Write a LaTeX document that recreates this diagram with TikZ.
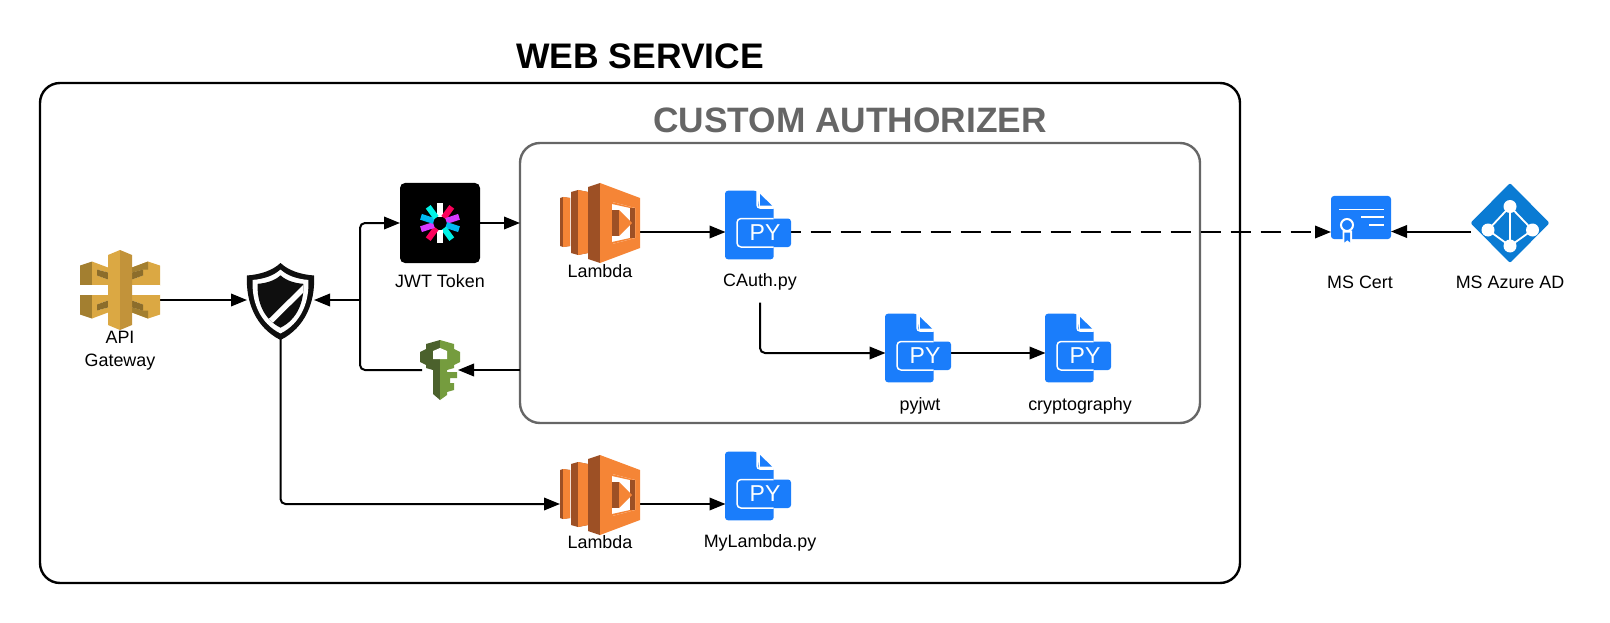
\documentclass[tikz,border=0pt]{standalone}
\usepackage{fontspec}
\setmainfont{Liberation Sans}
\usetikzlibrary{arrows.meta,positioning,calc}

\definecolor{gwlight}{HTML}{DBA843}
\definecolor{gwmid}{HTML}{C2933A}
\definecolor{gwdark}{HTML}{A37F30}
\definecolor{gwshade}{HTML}{8C6D2B}
\definecolor{lamlight}{HTML}{F58536}
\definecolor{lamdark}{HTML}{9D5025}
\definecolor{keylight}{HTML}{759C3E}
\definecolor{keydark}{HTML}{4B612C}
\definecolor{pyblue}{HTML}{1A7DFB}
\definecolor{azureblue}{HTML}{0A7BD3}
\definecolor{jwtred}{HTML}{FB015B}
\definecolor{jwtpurple}{HTML}{D63AFF}
\definecolor{jwtcyan}{HTML}{00B9F1}
\definecolor{jwtteal}{HTML}{00F2E6}

\tikzset{
	pics/gateway/.style={code={
		% side blocks, lower pair is the upper pair mirrored
		\foreach \s in {1,-1}{
			\begin{scope}[yscale=\s, shift={(0,-15.5)}]
				\fill[gwdark]  (-40,-9) -- (-28,-13) -- (-28,11) -- (-40,11) -- cycle;
				\fill[gwlight] (-28,-13) -- (-12,-7) -- (-12,-2) -- (-23,-5) -- (-23,1) -- (-12,5) -- (-12,11) -- (-28,11) -- cycle;
				\fill[gwlight] (40,-9) -- (40,11) -- (12,11) -- (12,5) -- (23,1) -- (23,-5) -- (12,-2) -- (12,-7) -- (28,-13) -- cycle;
				\fill[gwdark]  (12,-7) -- (28,-13) -- (28,-5) -- (23,-5) -- (12,-2) -- cycle;
				\fill[gwshade] (-23,-5) -- (-12,-2) -- (-12,5) -- (-23,1) -- cycle;
				\fill[gwshade] (23,-5) -- (12,-2) -- (12,5) -- (23,1) -- cycle;
			\end{scope}
		}
		\fill[white] (-40,-5) rectangle (40,5);
		\fill[gwlight] (-12,-35) -- (0,-40) -- (0,40) -- (-12,35) -- cycle;
		\fill[gwmid]   (12,-35) -- (0,-40) -- (0,40) -- (12,35) -- cycle;
	}},
	pics/lambda/.style={code={
		\fill[lamdark]  (-40,-25) -- (-37,-26) -- (-30,-25) -- (-30,23) -- (-37,24) -- (-40,23) -- cycle;
		\fill[lamlight] (-37,-26) -- (-30,-25) -- (-30,23) -- (-37,24) -- cycle;
		\fill[lamdark]  (-29,-31) -- (-22,-33) -- (-12,-31) -- (-12,30) -- (-22,32) -- (-29,30) -- cycle;
		\fill[lamlight] (-22,-33) -- (-12,-31) -- (-12,30) -- (-22,32) -- cycle;
		\fill[lamdark]  (-12,-36) -- (0,-40) -- (0,40) -- (-12,36) -- cycle;
		\fill[lamlight] (0,-40) -- (40,-25) -- (40,25) -- (0,40) -- cycle;
		\fill[white]    (12,-21) -- (35,-15) -- (35,15) -- (12,21) -- cycle;
		\fill[lamlight] (12,-21) -- (35,-15) -- (30,-15) -- (12,-19) -- cycle;
		\fill[lamdark]  (30,-15) -- (35,-15) -- (35,15) -- (30,15) -- cycle;
		\fill[lamdark]  (12,-13) -- (19,-13) -- (19,13) -- (12,13) -- cycle;
		\fill[lamlight] (19,-13) -- (32,0) -- (19,13) -- cycle;
		\fill[lamlight] (12,19) -- (30,15) -- (35,15) -- (12,21) -- cycle;
	}},
	pics/pyfile/.style={code={
		\fill[pyblue, rounded corners=3] (-33,-34.3) -- (-1,-34.3) -- (15.7,-18) -- (15.7,34.3) -- (-33,34.3) -- cycle;
		\draw[white, line width=1.5, rounded corners=3] (-1,-34.3) -- (-1,-17) -- (15.7,-17);
		\fill[white] (-1,-34.3) -- (1,-34.3) -- (15.7,-19) -- (15.7,-17) -- (1,-17) -- cycle;
		\fill[pyblue] (2,-31) -- (14,-19.5) -- (2,-19.5) -- cycle;
		\fill[pyblue, rounded corners=3] (-20,-6.5) rectangle (33,22);
		\draw[white, line width=1.5, rounded corners=4] (15.7,-6.5) -- (-21,-6.5) -- (-21,22) -- (15.7,22);
		\node[text=white, font=\fontsize{23}{26}\selectfont, inner sep=0pt] (-py) at (7,7.5) {PY};
	}},
	pics/jwtstar/.style={code={
		\foreach \a/\c in {-90/white,-54/jwtred,-18/jwtpurple,18/jwtcyan,54/jwtteal,90/white,126/jwtred,162/jwtpurple,198/jwtcyan,234/jwtteal}
			\draw[\c, line width=6] (\a:6.5) -- (\a:20);
	}},
	pics/shieldmark/.style={code={
		\def\shieldpath{(0,-38.5) .. controls (8,-31) and (20,-27) .. (33.5,-26) .. controls (35,0) and (25,26) .. (0,38.5) .. controls (-25,26) and (-35,0) .. (-33.5,-26) .. controls (-20,-27) and (-8,-31) .. (0,-38.5) -- cycle}
		\fill[black!94] \shieldpath;
		\fill[white, scale=0.83] \shieldpath;
		\begin{scope}[scale=0.68]
			\fill[black!94] \shieldpath;
			\clip \shieldpath;
			\draw[white, line width=5.5] (-26,40) -- (50,-35);
		\end{scope}
	}},
	pics/keymark/.style={code={
		\fill[keydark]  (0,-30) -- (-14,-26) -- (-14,-21) -- (-20,-18) -- (-20,-8) -- (-14,-5) -- (-14,-2) -- (-7,0) -- (-7,24) -- (0,30) -- cycle;
		\fill[keylight] (0,-30) -- (14,-26) -- (14,-21) -- (20,-18) -- (20,-8) -- (14,-5) -- (14,-2) -- (7,0) -- (7,2) -- (17,2) -- (17,8) -- (10,8) -- (10,13) -- (14,13) -- (14,20) -- (7,22) -- (7,25) -- (0,30) -- cycle;
		\fill[white]    (0,-22) -- (7,-19) -- (7,-11) -- (-7,-11) -- (-7,-19) -- cycle;
	}},
	pics/certmark/.style={code={
		\fill[pyblue] (-30,-21.5) [rounded corners=3] rectangle (30,21.5);
		\draw[white, line width=1.7] (-22,-8) -- (22.7,-8) (0.3,-0.5) -- (22.7,-0.5) (8.3,7.5) -- (22.7,7.5);
		\fill[white] (-18.5,13) -- (-18.5,28.5) -- (-13.7,25) -- (-9,28.5) -- (-9,13) -- cycle;
		\fill[pyblue] (-16.7,15) -- (-16.7,25) -- (-13.7,22.7) -- (-10.8,25) -- (-10.8,15) -- cycle;
		\draw[white, fill=pyblue, line width=2] (-14,7.5) circle (6);
	}},
	pics/azuremark/.style={code={
		\fill[azureblue, rounded corners=2] (0,-40) -- (39.5,0) -- (0,40) -- (-39.5,0) -- cycle;
		\draw[white, line width=1.8] (0,-16.5) -- (22.5,7) -- (0,23) -- (-22,7) -- cycle (0,-16.5) -- (0,23);
		\foreach \p in {(0,-16.5),(22.5,7),(0,23),(-22,7)}
			\fill[white] \p circle (6.5);
	}}
}

\begin{document}
\begin{tikzpicture}[
		x=1pt, y=-1pt,
		icon/.style={minimum width=#1, minimum height=#1, inner sep=0pt, outer sep=0pt},
		lbl/.style={inner sep=0pt, align=center, font=\fontsize{17.9}{23}\selectfont},
		frame/.style={draw, rounded corners=20pt, line width=2.4pt, minimum width=#1, inner sep=0pt, outer sep=0pt},
		arr/.style={-{Triangle[length=16pt,width=12.5pt]}, line width=2pt, rounded corners=5pt},
		wire/.style={line width=2pt, rounded corners=5pt}
		]
		\useasboundingbox (0,0) rectangle (1610,623);
		
		% Frames and titles
		\node[frame=1200pt, minimum height=500pt] (service) at (640,333) {};
		\node[frame=680pt, minimum height=280pt, draw=black!60] (custom) at (860,283) {};
		\node[font=\fontsize{35.5}{40}\selectfont\bfseries, inner sep=0pt] (servicetitle) at (640,56) {WEB SERVICE};
		\node[font=\fontsize{35.3}{40}\selectfont\bfseries, inner sep=0pt, text=black!60] (customtitle) at (850,120) {CUSTOM AUTHORIZER};
		
		% Icon places
		\node[icon=80pt] (gw)     at (120,290) {};
		\node[icon=67pt] (shield) at (280.5,300) {};
		\node[icon=80pt] (jwt)    at (440,223) {};
		\node[icon=36pt] (key)    at (440,370) {};
		\node[icon=80pt] (lam)    at (600,223) {};
		\node[icon=65pt] (cauth)  at (758,225) {};
		\node[icon=65pt] (pyjwt)  at (918,348) {};
		\node[icon=65pt] (crypto) at (1078,348) {};
		\node[icon=80pt] (lamb)   at (600,495) {};
		\node[icon=65pt] (mylam)  at (758,486) {};
		\node[icon=60pt] (cert)   at (1361,217.5) {};
		\node[icon=78pt] (azure)  at (1510,223) {};
		\coordinate (hub) at (360,300);
		
		% Labels
		\node[lbl] (gwlbl)     at (120,350.5) {API\\Gateway};
		\node[lbl] (jwtlbl)    at (440,281) {JWT Token};
		\node[lbl] (lamlbl)    at (600,271) {Lambda};
		\node[lbl] (cauthlbl)  at (760,282) {CAuth.py};
		\node[lbl] (pyjwtlbl)  at (920,406) {pyjwt};
		\node[lbl] (cryptolbl) at (1080,406) {cryptography};
		\node[lbl] (lamblbl)   at (600,542.5) {Lambda};
		\node[lbl] (mylamlbl)  at (760,543) {MyLambda.py};
		\node[lbl] (certlbl)   at (1360,282) {MS Cert};
		\node[lbl] (azurelbl)  at (1510,282) {MS Azure AD};
		
		% Arrows
		\draw[arr] ([yshift=-10pt]gw.east) -- (shield.west);
		\draw[arr] (hub) -- (shield.east);
		\draw[arr] (hub) |- (jwt.west);
		\draw[wire] (key.west) -| (hub);
		\draw[arr] (custom.west |- key.east) -- (key.east);
		\draw[arr] (jwt.east) -- (jwt.east -| custom.west);
		\draw[arr] (shield.south) |- ([yshift=-9pt]lamb.west);
		\draw[arr] ([yshift=-9pt]lam.east) -- ([yshift=-7pt]cauth.west);
		\draw[arr, dash pattern=on 20pt off 10pt, dash phase=10pt] ([yshift=-7pt]cauth.east) -- ([yshift=-14.5pt]cert.west);
		\draw[arr] ([yshift=-14pt]cert.east -| azure.west) -- ([yshift=-14pt]cert.east);
		\draw[arr] ([yshift=-12pt]cauthlbl.south) |- ([yshift=-5pt]pyjwt.west);
		\draw[arr] ([yshift=-5pt]pyjwt.east) -- ([yshift=-5pt]crypto.west);
		\draw[arr] ([yshift=-9pt]lamb.east) -- ([yshift=-18pt]mylam.west);
		
		% Icons
		\pic (gwicon) at (gw) {gateway};
		\pic (shieldicon) at (280.5,301.5) {shieldmark};
		\fill[black, rounded corners=5pt] (jwt.south west) rectangle (jwt.north east);
		\pic (jwticon) at (jwt) {jwtstar};
		\pic (keyicon) at (key) {keymark};
		\pic (lamicon) at (lam) {lambda};
		\pic (cauthicon) at (cauth) {pyfile};
		\pic (pyjwticon) at (pyjwt) {pyfile};
		\pic (cryptoicon) at (crypto) {pyfile};
		\pic (lambicon) at (lamb) {lambda};
		\pic (mylamicon) at (mylam) {pyfile};
		\pic (certicon) at (cert) {certmark};
		\pic (azureicon) at (azure) {azuremark};
	\end{tikzpicture}
\end{document}
